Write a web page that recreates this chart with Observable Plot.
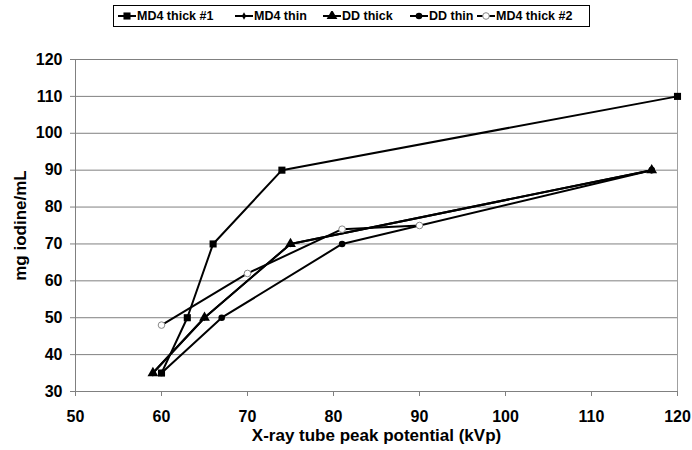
<!DOCTYPE html>
<html><head><meta charset="utf-8">
<script src="https://cdn.jsdelivr.net/npm/d3@7"></script>
<script src="https://cdn.jsdelivr.net/npm/@observablehq/plot@0.6"></script>
<style>
body{margin:0;background:#fff;}
#wrap{position:relative;width:692px;height:450px;font-family:"Liberation Sans",Arial,sans-serif;}
#legend{position:absolute;left:113px;top:5px;width:477px;height:22px;border:1px solid #000;box-sizing:border-box;background:#fff;}
.item{position:absolute;top:0;height:20px;display:flex;align-items:center;font-weight:bold;font-size:12.5px;color:#000;white-space:nowrap;}
.item svg{margin-right:1px;}
</style></head>
<body><div id="wrap"><div id="chart"></div><div id="legend"></div></div>
<script>
// ---- data ----
const seriesNames = ["MD4 thick #1", "MD4 thin", "DD thick", "DD thin", "MD4 thick #2"];
const kvpMD4Thick1 = [60, 63, 66, 74, 120];
const iodMD4Thick1 = [35, 50, 70, 90, 110];
const kvpMD4Thin = [59, 65, 75, 117];
const iodMD4Thin = [35, 50, 70, 90];
const kvpDDThick = [59, 65, 75, 117];
const iodDDThick = [35, 50, 70, 90];
const kvpDDThin = [60, 67, 81, 117];
const iodDDThin = [35, 50, 70, 90];
const kvpMD4Thick2 = [60, 70, 81, 90];
const iodMD4Thick2 = [48, 62, 74, 75];
const xTicks = [50, 60, 70, 80, 90, 100, 110, 120];
const yTicks = [30, 40, 50, 60, 70, 80, 90, 100, 110, 120];
const xTitle = "X-ray tube peak potential (kVp)";
const yTitle = "mg iodine/mL";

// ---- build table ----
const kvps = [kvpMD4Thick1, kvpMD4Thin, kvpDDThick, kvpDDThin, kvpMD4Thick2];
const iods = [iodMD4Thick1, iodMD4Thin, iodDDThick, iodDDThin, iodMD4Thick2];
const symbolStyles = [
  {symbol: "square", r: 4, fill: "#000", stroke: "none"},
  {symbol: "diamond", r: 2.2, fill: "#000", stroke: "none"},
  {symbol: "triangle", r: 4, fill: "#000", stroke: "none"},
  {symbol: "circle", r: 3.3, fill: "#000", stroke: "none"},
  {symbol: "circle", r: 3.3, fill: "#fff", stroke: "#888"}
];
const series = seriesNames.map((name, i) => ({
  name, style: symbolStyles[i],
  data: kvps[i].map((x, j) => ({x, y: iods[i][j], name}))
}));

const marks = [
  Plot.gridY(yTicks, {stroke: "#808080", strokeOpacity: 1, strokeWidth: 1}),
  Plot.ruleX([120], {stroke: "#a0a0a0", strokeWidth: 1}),
  Plot.ruleX([50], {stroke: "#808080", strokeWidth: 1}),
  Plot.ruleY([30], {stroke: "#808080", strokeWidth: 1}),
  Plot.axisX({ticks: xTicks, tickSize: 5, tickPadding: 14, label: null, stroke: "#808080"}),
  Plot.axisY({ticks: yTicks, tickSize: 5, tickPadding: 8, label: null, stroke: "#808080"}),
  Plot.text([xTitle], {frameAnchor: "bottom", dy: 49, fontSize: 17, fontWeight: "bold"}),
  Plot.text([yTitle], {frameAnchor: "left", textAnchor: "middle", dx: -55, rotate: -90, fontSize: 17, fontWeight: "bold"})
];
for (const s of series) {
  marks.push(Plot.line(s.data, {x: "x", y: "y", stroke: "#000", strokeWidth: 2}));
  marks.push(Plot.dot(s.data, {x: "x", y: "y", symbol: () => s.style.symbol, r: s.style.r, fill: s.style.fill, stroke: s.style.stroke, strokeWidth: 1}));
}

const chart = Plot.plot({
  width: 692, height: 450,
  marginLeft: 75, marginRight: 15, marginTop: 59, marginBottom: 59,
  style: {fontFamily: "'Liberation Sans', Arial, sans-serif", fontSize: "16px", fontWeight: "bold", color: "#000", background: "transparent"},
  x: {domain: [50, 120]},
  y: {domain: [30, 120]},
  marks
});
document.getElementById("chart").appendChild(chart);

// ---- legend ----
const legendOffsets = [4, 121, 209, 296, 363];
const legend = document.getElementById("legend");
series.forEach((s, i) => {
  const item = document.createElement("div");
  item.className = "item";
  item.style.left = legendOffsets[i] + "px";
  const sym = d3.symbol(s.style.symbol === "square" ? d3.symbolSquare : s.style.symbol === "diamond" ? d3.symbolDiamond : s.style.symbol === "triangle" ? d3.symbolTriangle : d3.symbolCircle, Math.PI * s.style.r * s.style.r)();
  item.innerHTML = `<svg width="18" height="10"><line x1="0" x2="18" y1="5" y2="5" stroke="#000" stroke-width="2"/><path transform="translate(9,5)" d="${sym}" fill="${s.style.fill}" stroke="${s.style.stroke}"/></svg>` + s.name;
  legend.appendChild(item);
});
</script>
</body></html>
